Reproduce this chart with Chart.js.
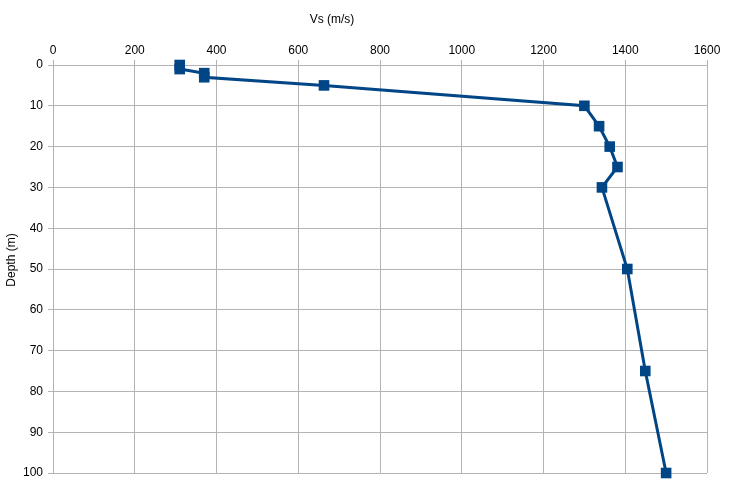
<!DOCTYPE html>
<html>
<head>
<meta charset="utf-8">
<script src="https://cdn.jsdelivr.net/npm/chart.js@4/dist/chart.umd.min.js"></script>
<style>
html,body{margin:0;padding:0;background:#fff;}
#wrap{width:747px;height:502px;position:relative;}
</style>
</head>
<body>
<div id="wrap"><canvas id="c" width="747" height="502"></canvas></div>
<script>
const vsValues = [310, 310, 370, 370, 663, 1300, 1336, 1362, 1381, 1343, 1405, 1449, 1500];
const depthValues = [0, 1, 2, 3, 5, 10, 15, 20, 25, 30, 50, 75, 100];
const xTitle = 'Vs (m/s)';
const yTitle = 'Depth (m)';

const points = vsValues.map((v, i) => ({x: v, y: depthValues[i]}));

const labelsPlugin = {
  id: 'labels',
  afterDraw(chart) {
    const ctx = chart.ctx;
    ctx.save();
    ctx.fillStyle = '#000';
    ctx.font = '12px "Liberation Sans", Arial, sans-serif';
    ctx.textAlign = 'center';
    ctx.textBaseline = 'middle';
    ctx.fillText(xTitle, 332, 20);
    ctx.translate(12, 260);
    ctx.rotate(-Math.PI / 2);
    ctx.fillText(yTitle, 0, 0);
    ctx.restore();
  }
};

const plain = v => String(v);

new Chart(document.getElementById('c'), {
  type: 'scatter',
  data: {
    datasets: [{
      data: points,
      showLine: true,
      clip: false,
      borderColor: '#004586',
      backgroundColor: '#004586',
      borderWidth: 3,
      pointStyle: 'rect',
      pointRadius: 7.5,
      pointBorderWidth: 0,
      pointHoverRadius: 7.5
    }]
  },
  options: {
    responsive: false,
    animation: false,
    layout: {padding: {left: 0, right: 40, top: 0, bottom: 29}},
    plugins: {legend: {display: false}, tooltip: {enabled: false}},
    scales: {
      x: {
        type: 'linear',
        position: 'top',
        min: 0, max: 1600,
        ticks: {stepSize: 200, color: '#000', font: {family: '"Liberation Sans", Arial, sans-serif', size: 12}, padding: 2, maxRotation: 0, callback: plain},
        grid: {color: '#b3b3b3', lineWidth: 1, tickLength: 5, drawTicks: true},
        border: {color: '#b3b3b3'},
        afterFit(scale) { scale.height = 65; }
      },
      y: {
        type: 'linear',
        reverse: true,
        min: 0, max: 100,
        ticks: {stepSize: 10, color: '#000', font: {family: '"Liberation Sans", Arial, sans-serif', size: 12}, padding: 5, callback: plain},
        grid: {color: '#b3b3b3', lineWidth: 1, tickLength: 5, drawTicks: true},
        border: {color: '#b3b3b3'},
        afterFit(scale) { scale.width = 53; }
      }
    }
  },
  plugins: [labelsPlugin]
});
</script>
</body>
</html>
